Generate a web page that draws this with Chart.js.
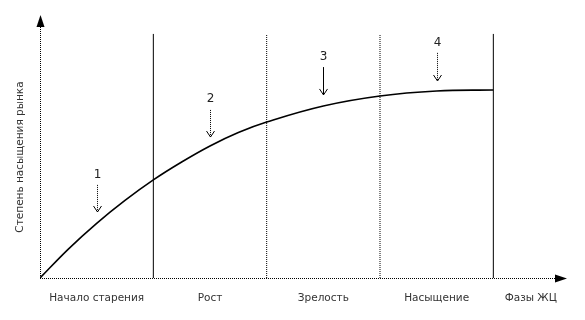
<!DOCTYPE html>
<html>
<head>
<meta charset="utf-8">
<script src="https://cdn.jsdelivr.net/npm/chart.js@4"></script>
<style>
    html, body { margin: 0; padding: 0; background: #fff; }
    #wrap { width: 585px; height: 320px; position: relative; }
</style>
</head>
<body>
<div id="wrap"><canvas id="lifeCycleChart"></canvas></div>
<script>
// Curve: market saturation vs. life-cycle phase (x in phase units, y in % of axis height)
const curveX = [0, 0.25, 0.5, 0.75, 1, 1.25, 1.5, 1.75, 2, 2.5, 3, 3.5, 4];
const curveY = [0, 11.0, 20.8, 29.5, 37.3, 44.1, 50.2, 55.3, 59.3, 65.4, 69.2, 71.1, 71.5];

// Phase boundaries
const phaseBounds = [1, 2, 3, 4];
const phaseTop = 92.8;
const phaseDotted = [false, true, true, false];

// Phase labels along the x axis
const phaseLabels = ['Начало старения', 'Рост', 'Зрелость', 'Насыщение', 'Фазы ЖЦ'];
const phaseLabelX = [0.5, 1.5, 2.5, 3.5, 4.33];

// Numbered arrows
const arrowNames = ['1', '2', '3', '4'];
const arrowX = [0.5, 1.5, 2.5, 3.5];
const arrowLabelY = [39.2, 68.1, 84.0, 89.4];
const arrowFrom = [35.4, 63.9, 80.2, 85.6];
const arrowTo = [25.1, 53.6, 69.6, 74.9];
const arrowDotted = [true, true, false, true];

const yTitle = 'Степень насыщения рынка';
const xMax = 4.65;
const yMax = 100;

const FONT = '"DejaVu Sans", Verdana, sans-serif';
const TEXT_COLOR = '#333';

const datasets = [{
    data: curveX.map((x, i) => ({ x: x, y: curveY[i] })),
    borderColor: '#000',
    borderWidth: 1.6,
    pointRadius: 0,
    tension: 0.4,
    fill: false
}];

phaseBounds.forEach((b, i) => {
    datasets.push({
        data: [{ x: b, y: 0 }, { x: b, y: phaseTop }],
        borderColor: '#000',
        borderWidth: 1,
        borderDash: phaseDotted[i] ? [1, 1] : [],
        pointRadius: 0,
        fill: false
    });
});

// Axes with arrowheads, labels and numbered arrows
const decorPlugin = {
    id: 'decor',
    afterDatasetsDraw: (chart) => {
        const { ctx, chartArea: a, scales: { x, y } } = chart;
        const crisp = v => Math.round(v) + 0.5;
        ctx.save();

        // axes (dotted look)
        ctx.strokeStyle = '#000';
        ctx.lineWidth = 1;
        ctx.setLineDash([1, 1]);
        ctx.beginPath();
        ctx.moveTo(crisp(a.left), a.bottom);
        ctx.lineTo(crisp(a.left), a.top + 10);
        ctx.moveTo(a.left, crisp(a.bottom));
        ctx.lineTo(a.right - 10, crisp(a.bottom));
        ctx.stroke();
        ctx.setLineDash([]);

        // arrowheads
        ctx.fillStyle = '#000';
        ctx.beginPath();
        ctx.moveTo(a.left + 0.5, a.top);
        ctx.lineTo(a.left - 3.5, a.top + 12);
        ctx.lineTo(a.left + 4.5, a.top + 12);
        ctx.closePath();
        ctx.fill();
        ctx.beginPath();
        ctx.moveTo(a.right, a.bottom + 0.5);
        ctx.lineTo(a.right - 12, a.bottom - 3.5);
        ctx.lineTo(a.right - 12, a.bottom + 4.5);
        ctx.closePath();
        ctx.fill();

        // phase labels
        ctx.fillStyle = TEXT_COLOR;
        ctx.font = '10.5px ' + FONT;
        ctx.textAlign = 'center';
        ctx.textBaseline = 'middle';
        phaseLabels.forEach((t, i) => {
            ctx.fillText(t, x.getPixelForValue(phaseLabelX[i]), a.bottom + 20);
        });

        // y title
        ctx.save();
        ctx.translate(20, 157);
        ctx.rotate(-Math.PI / 2);
        ctx.fillText(yTitle, 0, 0);
        ctx.restore();

        // numbered arrows
        arrowNames.forEach((n, i) => {
            const px = crisp(x.getPixelForValue(arrowX[i]));
            const y0 = y.getPixelForValue(arrowFrom[i]);
            const y1 = y.getPixelForValue(arrowTo[i]);
            ctx.font = '12px ' + FONT;
            ctx.fillStyle = '#222';
            ctx.fillText(n, px, y.getPixelForValue(arrowLabelY[i]));
            ctx.strokeStyle = '#000';
            ctx.setLineDash(arrowDotted[i] ? [1, 1] : []);
            ctx.beginPath();
            ctx.moveTo(px, y0);
            ctx.lineTo(px, y1);
            ctx.stroke();
            ctx.setLineDash([]);
            ctx.beginPath();
            ctx.moveTo(px - 4, y1 - 6);
            ctx.lineTo(px, y1);
            ctx.lineTo(px + 4, y1 - 6);
            ctx.stroke();
        });

        ctx.restore();
    }
};

new Chart(document.getElementById('lifeCycleChart').getContext('2d'), {
    type: 'line',
    data: { datasets: datasets },
    options: {
        responsive: true,
        maintainAspectRatio: false,
        animation: false,
        layout: { padding: { left: 40, right: 18, top: 15, bottom: 42 } },
        plugins: { legend: { display: false }, tooltip: { enabled: false } },
        scales: {
            x: { type: 'linear', min: 0, max: xMax, display: false },
            y: { type: 'linear', min: 0, max: yMax, display: false }
        }
    },
    plugins: [decorPlugin]
});
</script>
</body>
</html>
